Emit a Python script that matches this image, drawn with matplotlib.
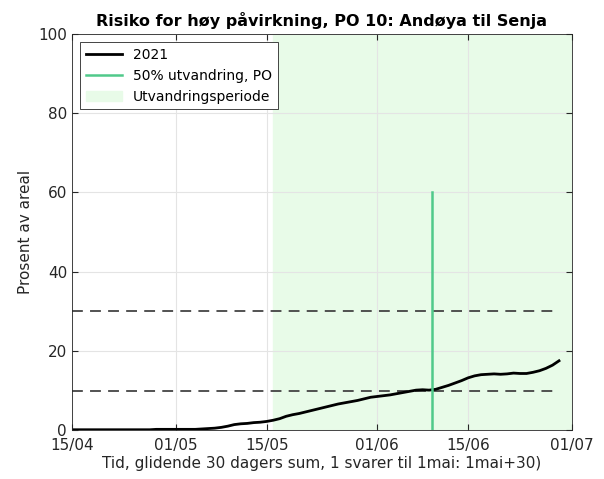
import numpy as np
import matplotlib.pyplot as plt
import matplotlib.dates as mdates

# daily 30-day risk share, 15 April - 29 June 2021
start_day = '2021-04-15'
risk_2021 = [
    0.1, 0.1, 0.1, 0.1, 0.1, 0.1, 0.1, 0.1, 0.1, 0.1, 0.1, 0.1, 0.1,
    0.2, 0.2, 0.2, 0.2, 0.2, 0.2, 0.2,
    0.3, 0.4, 0.5, 0.7,
    1.0, 1.4, 1.6, 1.7, 1.9, 2.0, 2.2, 2.5, 2.9, 3.5, 3.9, 4.2, 4.6, 5.0,
    5.4, 5.8, 6.2, 6.6, 6.9, 7.2, 7.5, 7.9, 8.3, 8.5, 8.7, 8.9, 9.2, 9.5,
    9.8, 10.1, 10.2, 10.1, 10.3, 10.8, 11.3, 11.9, 12.5, 13.2, 13.7, 14.0,
    14.1, 14.2, 14.1, 14.2, 14.4, 14.3, 14.3, 14.6, 15.0, 15.6, 16.4, 17.5,
]
thresholds = [10, 30]
period_start = '2021-05-16'
period_end = '2021-07-01'
migration_50 = '2021-06-09T12'
migration_height = 60

dates = np.arange(np.datetime64(start_day), np.datetime64(start_day) + len(risk_2021))

fig = plt.figure(figsize=(6.04, 4.79), dpi=100)
ax = fig.add_axes([0.119, 0.102, 0.828, 0.827])

span = ax.axvspan(np.datetime64(period_start), np.datetime64(period_end),
                  color='#e8fbe8', zorder=0, label='Utvandringsperiode')
for t in thresholds:
    ax.plot([dates[0], dates[-1]], [t, t], '--', color='#444444', lw=1.3, dashes=(6, 4))
line, = ax.plot(dates, risk_2021, color='black', lw=2, label='2021')
vline, = ax.plot([np.datetime64(migration_50)] * 2, [0, migration_height],
                 color='#50c98a', lw=1.8, label='50% utvandring, PO')

ax.set_xlim(np.datetime64('2021-04-15'), np.datetime64('2021-07-01'))
ax.set_ylim(0, 100)
ax.set_yticks([0, 20, 40, 60, 80, 100])
ticks = [np.datetime64(d) for d in ['2021-04-15', '2021-05-01', '2021-05-15',
                                    '2021-06-01', '2021-06-15', '2021-07-01']]
ax.set_xticks(ticks)
ax.xaxis.set_major_formatter(mdates.DateFormatter('%d/%m'))

ax.set_axisbelow(True)
ax.grid(True, color='#e4e4e4', lw=0.8)
ax.tick_params(direction='in', top=True, right=True, labelsize=11,
               colors='#262626', length=4)
ax.tick_params(axis='x', pad=6)
for s in ax.spines.values():
    s.set_color('#262626')
    s.set_linewidth(0.6)

ax.set_title('Risiko for høy påvirkning, PO 10: Andøya til Senja',
             fontsize=11.5, fontweight='bold', pad=6)
ax.set_xlabel('Tid, glidende 30 dagers sum, 1 svarer til 1mai: 1mai+30)',
              fontsize=11, color='#262626', labelpad=2)
ax.set_ylabel('Prosent av areal', fontsize=11, color='#262626')

leg = ax.legend(handles=[line, vline, span], loc='upper left', fontsize=10,
                fancybox=False, framealpha=1, edgecolor='#262626',
                handlelength=2.6, borderaxespad=0.6)
leg.get_frame().set_linewidth(0.6)

fig.savefig('out.png', dpi=100)
